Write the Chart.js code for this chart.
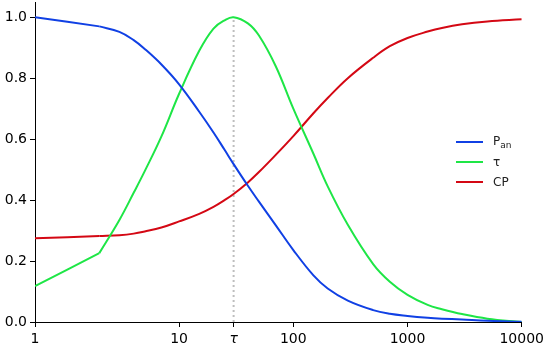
<!DOCTYPE html>
<html>
<head>
<meta charset="utf-8">
<script src="https://cdn.jsdelivr.net/npm/chart.js@4"></script>
<style>
    body { margin: 0; background: #fff; }
    #wrap { position: relative; width: 548px; height: 351px; }
    #legend { position: absolute; left: 456px; top: 132px; font-family: 'DejaVu Sans', sans-serif; font-size: 12px; color: #222; }
    .item { display: flex; align-items: center; height: 20px; }
    .swatch { width: 27px; height: 2px; margin-right: 10px; }
    sub { font-size: 9px; vertical-align: -3px; }
</style>
</head>
<body>
<div id="wrap">
    <canvas id="chart" width="548" height="351"></canvas>
    <div id="legend"></div>
</div>
<script>
// data
const xValues = [0.547, 1.05, 2, 3, 4, 5, 7, 10, 15, 20, 25, 30, 40, 50, 70, 100, 150, 200, 300, 500, 700, 1000, 1500, 2000, 3000, 5000, 10000];
const panValues = [1.0, 0.985, 0.97, 0.952, 0.925, 0.896, 0.845, 0.78, 0.69, 0.622, 0.565, 0.518, 0.447, 0.395, 0.318, 0.236, 0.153, 0.11, 0.07, 0.039, 0.027, 0.02, 0.014, 0.011, 0.008, 0.004, 0.001];
const tauValues = [0.118, 0.172, 0.226, 0.335, 0.424, 0.495, 0.609, 0.749, 0.89, 0.963, 0.99, 1.0, 0.98, 0.94, 0.84, 0.70, 0.552, 0.445, 0.319, 0.19, 0.132, 0.089, 0.056, 0.042, 0.026, 0.011, 0.0];
const cpValues = [0.275, 0.278, 0.282, 0.285, 0.29, 0.297, 0.31, 0.33, 0.355, 0.378, 0.40, 0.42, 0.458, 0.492, 0.548, 0.61, 0.685, 0.735, 0.80, 0.867, 0.905, 0.932, 0.953, 0.965, 0.977, 0.986, 0.993];
const tauX = 30;
const xTicks = [0.547, 10, 30, 100, 1000, 10000];
const xTickLabels = ['1', '10', 'τ', '100', '1000', '10000'];
const yTicks = [0, 0.2, 0.4, 0.6, 0.8, 1.0];
const seriesNames = ['P<sub>an</sub>', 'τ', 'CP'];

const colors = ['rgb(16, 64, 228)', 'rgb(30, 230, 70)', 'rgb(212, 8, 20)'];
const font = 'DejaVu Sans';
const kink = 2; // index where the straight start ends

function toPoints(ys, from, to) {
    return xValues.slice(from, to).map((x, i) => ({x: x, y: ys[from + i]}));
}

const datasets = [];
[panValues, tauValues, cpValues].forEach((ys, i) => {
    // straight first piece
    datasets.push({
        data: toPoints(ys, 0, kink + 1),
        borderColor: colors[i],
        borderWidth: 2,
        pointRadius: 0,
        tension: 0,
        order: 1
    });
    // smooth rest
    datasets.push({
        data: toPoints(ys, kink, xValues.length),
        borderColor: colors[i],
        borderWidth: 2,
        pointRadius: 0,
        tension: 0.4,
        order: 1
    });
});
datasets.push({
    data: [{x: tauX, y: 0}, {x: tauX, y: 1}],
    borderColor: 'rgb(190, 190, 190)',
    borderWidth: 2,
    borderDash: [2, 3],
    pointRadius: 0,
    order: 2
});

new Chart(document.getElementById('chart'), {
    type: 'line',
    data: {datasets: datasets},
    options: {
        responsive: false,
        animation: false,
        layout: {padding: {top: 2, right: 26, left: 0, bottom: 0}},
        plugins: {legend: {display: false}, tooltip: {enabled: false}},
        scales: {
            x: {
                type: 'logarithmic',
                min: 0.547,
                max: 10000,
                afterBuildTicks: (s) => { s.ticks = xTicks.map(v => ({value: v})); },
                afterFit: (s) => { s.height = 29; },
                border: {display: true, color: '#000', width: 1},
                grid: {drawOnChartArea: false, drawTicks: true, tickLength: 5, color: '#000'},
                ticks: {
                    autoSkip: false,
                    maxRotation: 0,
                    padding: 4,
                    color: '#000',
                    font: (c) => ({family: font, size: 14, style: c.index === 2 ? 'italic' : 'normal'}),
                    callback: (v, i) => xTickLabels[i]
                }
            },
            y: {
                min: 0,
                max: 1.05,
                afterBuildTicks: (s) => { s.ticks = yTicks.map(v => ({value: v})); },
                afterFit: (s) => { s.width = 35; s.paddingTop = 0; s.paddingBottom = 0; },
                border: {display: true, color: '#000', width: 1},
                grid: {drawOnChartArea: false, drawTicks: true, tickLength: 5, color: '#000'},
                ticks: {
                    padding: 3,
                    color: '#000',
                    font: {family: font, size: 14},
                    callback: (v) => v.toFixed(1)
                }
            }
        }
    }
});

// legend
const legend = document.getElementById('legend');
seriesNames.forEach((name, i) => {
    const row = document.createElement('div');
    row.className = 'item';
    row.innerHTML = '<span class="swatch" style="background:' + colors[i] + '"></span><span>' + name + '</span>';
    legend.appendChild(row);
});
</script>
</body>
</html>
